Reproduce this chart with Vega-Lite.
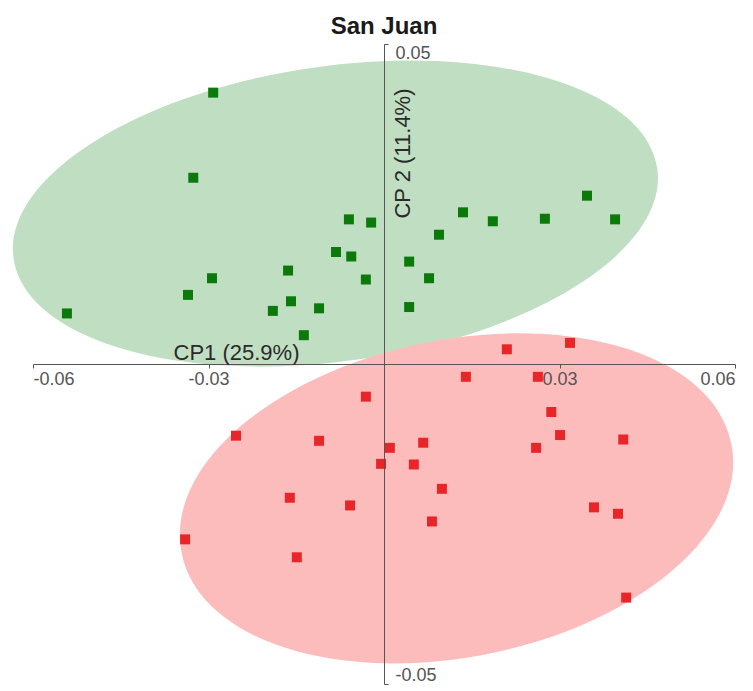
{
  "$schema": "https://vega.github.io/schema/vega-lite/v6.json",
  "width": 702,
  "height": 640,
  "autosize": {"type": "none"},
  "padding": {"left": 33, "top": 44, "right": 18, "bottom": 7},
  "background": "white",
  "title": {
    "text": "San Juan",
    "font": "Liberation Sans",
    "fontSize": 24,
    "fontWeight": "bold",
    "color": "#1a1a1a",
    "anchor": "middle",
    "frame": "group",
    "baseline": "alphabetic",
    "offset": 13,
    "dy": 27
  },
  "config": {"view": {"stroke": null}, "font": "Liberation Sans"},
  "datasets": {
    "scores": [
      {"group": "A", "cp1": -0.0292, "cp2": 0.0424},
      {"group": "A", "cp1": -0.0326, "cp2": 0.0291},
      {"group": "A", "cp1": -0.0060, "cp2": 0.0226},
      {"group": "A", "cp1": -0.0022, "cp2": 0.0221},
      {"group": "A", "cp1": 0.0135, "cp2": 0.0237},
      {"group": "A", "cp1": 0.0186, "cp2": 0.0223},
      {"group": "A", "cp1": 0.0275, "cp2": 0.0227},
      {"group": "A", "cp1": 0.0347, "cp2": 0.0263},
      {"group": "A", "cp1": 0.0395, "cp2": 0.0226},
      {"group": "A", "cp1": 0.0094, "cp2": 0.0202},
      {"group": "A", "cp1": -0.0082, "cp2": 0.0175},
      {"group": "A", "cp1": -0.0056, "cp2": 0.0168},
      {"group": "A", "cp1": 0.0043, "cp2": 0.0160},
      {"group": "A", "cp1": -0.0164, "cp2": 0.0146},
      {"group": "A", "cp1": -0.0294, "cp2": 0.0134},
      {"group": "A", "cp1": -0.0031, "cp2": 0.0132},
      {"group": "A", "cp1": 0.0077, "cp2": 0.0134},
      {"group": "A", "cp1": -0.0335, "cp2": 0.0108},
      {"group": "A", "cp1": -0.0159, "cp2": 0.0098},
      {"group": "A", "cp1": -0.0542, "cp2": 0.0079},
      {"group": "A", "cp1": -0.0190, "cp2": 0.0083},
      {"group": "A", "cp1": -0.0111, "cp2": 0.0087},
      {"group": "A", "cp1": 0.0043, "cp2": 0.0089},
      {"group": "A", "cp1": -0.0137, "cp2": 0.0045},
      {"group": "B", "cp1": 0.0318, "cp2": 0.0033},
      {"group": "B", "cp1": 0.0210, "cp2": 0.0023},
      {"group": "B", "cp1": 0.0140, "cp2": -0.0020},
      {"group": "B", "cp1": 0.0263, "cp2": -0.0020},
      {"group": "B", "cp1": -0.0031, "cp2": -0.0051},
      {"group": "B", "cp1": 0.0286, "cp2": -0.0075},
      {"group": "B", "cp1": -0.0253, "cp2": -0.0112},
      {"group": "B", "cp1": -0.0111, "cp2": -0.0120},
      {"group": "B", "cp1": 0.0301, "cp2": -0.0111},
      {"group": "B", "cp1": 0.0409, "cp2": -0.0118},
      {"group": "B", "cp1": 0.0067, "cp2": -0.0123},
      {"group": "B", "cp1": 0.0010, "cp2": -0.0131},
      {"group": "B", "cp1": 0.0260, "cp2": -0.0131},
      {"group": "B", "cp1": -0.0005, "cp2": -0.0156},
      {"group": "B", "cp1": 0.0051, "cp2": -0.0157},
      {"group": "B", "cp1": 0.0099, "cp2": -0.0195},
      {"group": "B", "cp1": -0.0161, "cp2": -0.0209},
      {"group": "B", "cp1": -0.0058, "cp2": -0.0221},
      {"group": "B", "cp1": 0.0359, "cp2": -0.0224},
      {"group": "B", "cp1": 0.0400, "cp2": -0.0234},
      {"group": "B", "cp1": 0.0082, "cp2": -0.0246},
      {"group": "B", "cp1": -0.0340, "cp2": -0.0274},
      {"group": "B", "cp1": -0.0149, "cp2": -0.0302},
      {"group": "B", "cp1": 0.0414, "cp2": -0.0365}
    ],
    "ellipses": [
      {"group": "A", "cp1": -0.0083, "cp2": 0.0235},
      {"group": "B", "cp1": 0.0124, "cp2": -0.0210}
    ]
  },
  "encoding": {
    "x": {
      "field": "cp1",
      "type": "quantitative",
      "scale": {"domain": [-0.06, 0.06], "nice": false, "zero": false},
      "axis": {
        "orient": "bottom",
        "offset": {"expr": "-height / 2"},
        "zindex": 1,
        "values": [-0.06, -0.03, 0.03, 0.06],
        "labelExpr": "toString(datum.value)",
        "grid": false,
        "domainColor": "#555555",
        "tickColor": "#555555",
        "tickSize": 4,
        "labelFont": "Liberation Sans",
        "labelFontSize": 18,
        "labelColor": "#555555",
        "labelPadding": 2,
        "labelFlush": true,
        "title": "CP1 (25.9%)",
        "titleFont": "Liberation Sans",
        "titleFontSize": 22,
        "titleFontWeight": "normal",
        "titleColor": "#2a2a2a",
        "titleAlign": "center",
        "titleBaseline": "middle",
        "titleX": 203,
        "titleY": -12
      }
    },
    "y": {
      "field": "cp2",
      "type": "quantitative",
      "scale": {"domain": [-0.05, 0.05], "nice": false, "zero": false},
      "axis": {
        "orient": "right",
        "offset": {"expr": "-width / 2"},
        "zindex": 1,
        "values": [-0.05, 0.05],
        "labelExpr": "toString(datum.value)",
        "grid": false,
        "domainColor": "#555555",
        "tickColor": "#555555",
        "tickSize": 4,
        "labelFont": "Liberation Sans",
        "labelFontSize": 18,
        "labelColor": "#555555",
        "labelPadding": 7,
        "labelFlush": true,
        "title": "CP 2 (11.4%)",
        "titleFont": "Liberation Sans",
        "titleFontSize": 22,
        "titleFontWeight": "normal",
        "titleColor": "#2a2a2a",
        "titleAngle": 270,
        "titleAlign": "center",
        "titleBaseline": "middle",
        "titleX": 18,
        "titleY": 109
      }
    }
  },
  "layer": [
    {
      "data": {"name": "ellipses"},
      "transform": [{"filter": "datum.group === 'A'"}],
      "mark": {
        "type": "point",
        "shape": "M -0.9904 0.1385 A 1 0.4543 -7.96 1 1 0.9904 -0.1385 A 1 0.4543 -7.96 1 1 -0.9904 0.1385 Z",
        "size": 422460,
        "filled": true,
        "fill": "#c0dfc2",
        "opacity": 1,
        "strokeWidth": 0
      }
    },
    {
      "data": {"name": "ellipses"},
      "transform": [{"filter": "datum.group === 'B'"}],
      "mark": {
        "type": "point",
        "shape": "M -0.9808 0.1949 A 1 0.5628 -11.24 1 1 0.9808 -0.1949 A 1 0.5628 -11.24 1 1 -0.9808 0.1949 Z",
        "size": 313952,
        "filled": true,
        "fill": "#fdbcbc",
        "opacity": 1,
        "strokeWidth": 0
      }
    },
    {
      "data": {"name": "scores"},
      "mark": {"type": "point", "shape": "square", "size": 100, "filled": true, "opacity": 1},
      "encoding": {
        "color": {
          "field": "group",
          "type": "nominal",
          "scale": {"domain": ["A", "B"], "range": ["#0b7a0b", "#e8262a"]},
          "legend": null
        }
      }
    }
  ]
}
